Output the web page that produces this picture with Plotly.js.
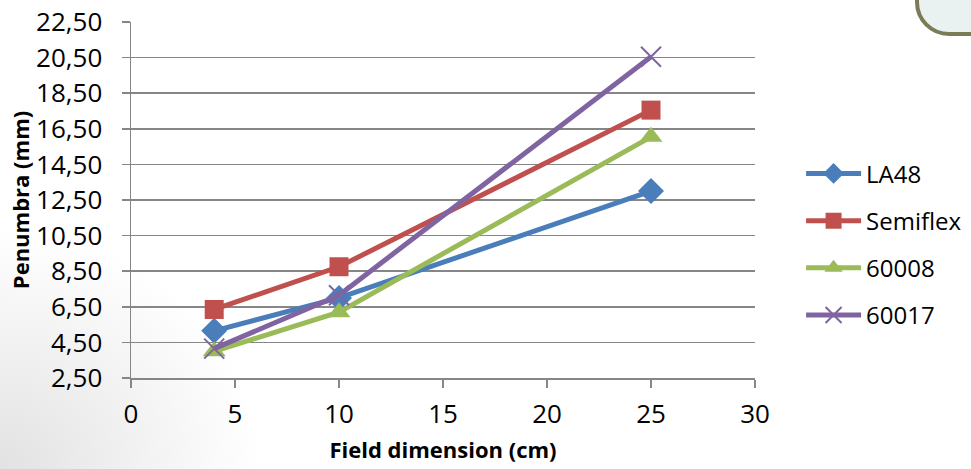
<!DOCTYPE html>
<html>
<head>
<meta charset="utf-8">
<script src="https://cdn.plot.ly/plotly-3.0.1.min.js"></script>
<style>
  html, body { margin: 0; padding: 0; }
  body {
    width: 971px; height: 469px; overflow: hidden; position: relative;
    background: radial-gradient(ellipse 260px 240px at 0px 469px, #e2e2e2 0%, #f2f2f2 55%, #ffffff 100%);
  }
  #chart { width: 971px; height: 469px; position: absolute; left: 0; top: 0; }
  .corner {
    position: absolute; left: 915px; top: -44px; width: 120px; height: 72px;
    background: #e9f1f1; border: 4px solid #7b7b58; border-radius: 34px;
  }
</style>
</head>
<body>
<div class="corner"></div>
<div id="chart"></div>
<script>
// Field sizes (cm) and measured penumbra (mm) per detector
const fieldSizes = [4, 10, 25];
const seriesNames = ['LA48', 'Semiflex', '60008', '60017'];
const la48 = [5.15, 7.0, 13.0];
const semiflex = [6.35, 8.75, 17.55];
const pinpoint60008 = [4.0, 6.2, 16.05];
const diode60017 = [4.15, 7.15, 20.55];
const yTickVals = [2.5, 4.5, 6.5, 8.5, 10.5, 12.5, 14.5, 16.5, 18.5, 20.5, 22.5];
const xTickVals = [0, 5, 10, 15, 20, 25, 30];

const colors = ['#4a7ebb', '#c0504d', '#9bbb59', '#8064a2'];
const symbols = ['diamond', 'square', 'triangle-up', 'x-thin'];
const sizes = [20, 19, 20, 20];
const values = [la48, semiflex, pinpoint60008, diode60017];

const FONT = '"Open Sans", "Noto Sans", sans-serif';

const traces = values.map((v, i) => ({
  x: fieldSizes,
  y: v,
  name: seriesNames[i],
  legendgroup: 'g' + i,
  type: 'scatter',
  mode: 'lines+markers',
  line: { color: colors[i], width: 5 },
  marker: {
    symbol: symbols[i],
    size: sizes[i],
    color: colors[i],
    line: { color: colors[i], width: symbols[i] === 'x-thin' ? 2 : 0 }
  },
  cliponaxis: false
}));

const layout = {
  width: 971,
  height: 469,
  margin: { l: 131, r: 216, t: 22, b: 91, autoexpand: false },
  paper_bgcolor: 'rgba(0,0,0,0)',
  plot_bgcolor: 'rgba(0,0,0,0)',
  separators: ',.',
  font: { family: FONT, color: '#000000', size: 26 },
  showlegend: true,
  legend: {
    xref: 'container', yref: 'container',
    x: 0.825, xanchor: 'left',
    y: 0.479, yanchor: 'middle',
    traceorder: 'grouped',
    tracegroupgap: 13,
    itemwidth: 55,
    font: { family: FONT, size: 24, color: '#000000' },
    bgcolor: 'rgba(0,0,0,0)'
  },
  xaxis: {
    range: [0, 30],
    tickvals: xTickVals,
    ticks: 'outside',
    ticklen: 8,
    tickwidth: 1.5,
    tickcolor: '#868686',
    ticklabelstandoff: 4,
    showline: true,
    linecolor: '#868686',
    linewidth: 1.5,
    showgrid: false,
    zeroline: false,
    tickfont: { family: FONT, size: 26 },
    title: { text: '<b>Field dimension (cm)</b>', font: { family: FONT, size: 22 }, standoff: 13 }
  },
  yaxis: {
    range: [2.5, 22.5],
    tickvals: yTickVals,
    tickformat: '.2f',
    ticks: 'outside',
    ticklen: 8,
    tickwidth: 1.5,
    tickcolor: '#868686',
    ticklabelstandoff: 14,
    showline: true,
    linecolor: '#868686',
    linewidth: 1.5,
    showgrid: true,
    gridcolor: '#868686',
    gridwidth: 1.5,
    zeroline: false,
    tickfont: { family: FONT, size: 26 },
    title: { text: '<b>Penumbra (mm)</b>', font: { family: FONT, size: 22 }, standoff: 0 }
  }
};

Plotly.newPlot('chart', traces, layout, { displayModeBar: false, staticPlot: true });
</script>
</body>
</html>
